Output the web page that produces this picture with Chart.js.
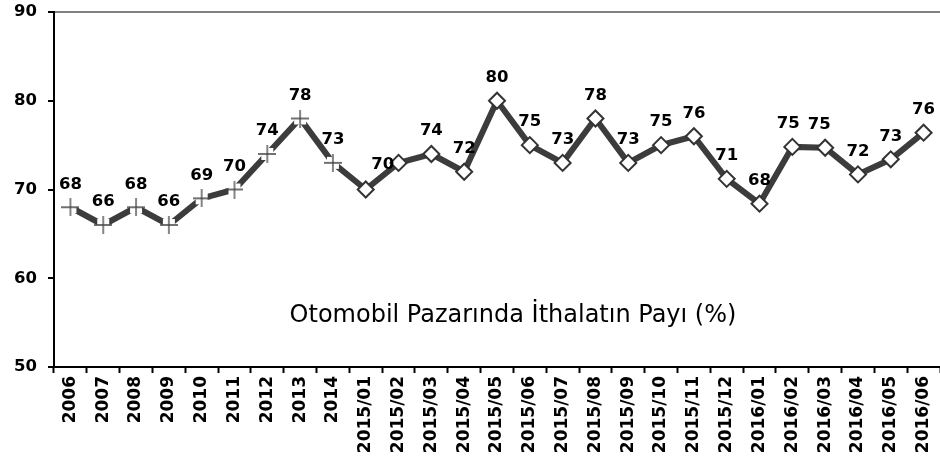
<!DOCTYPE html>
<html>
<head>
<meta charset="utf-8">
<script src="https://cdn.jsdelivr.net/npm/chart.js@4/dist/chart.umd.min.js"></script>
<style>
  html, body { margin: 0; padding: 0; background: #fff; }
  #wrap { width: 940px; height: 457px; }
</style>
</head>
<body>
<div id="wrap"><canvas id="importChart" width="940" height="457"></canvas></div>
<script>
const categories = ["2006","2007","2008","2009","2010","2011","2012","2013","2014",
  "2015/01","2015/02","2015/03","2015/04","2015/05","2015/06","2015/07","2015/08",
  "2015/09","2015/10","2015/11","2015/12","2016/01","2016/02","2016/03","2016/04",
  "2016/05","2016/06"]

const importShare = [68, 66, 68, 66, 69, 70, 74, 78, 73,
  70, 73, 74, 72, 80, 75, 73, 78, 73, 75, 76, 71.2,
  68.4, 74.8, 74.7, 71.7, 73.4, 76.4]

// yearly points use a cross marker, monthly points a diamond
const yearlyCount = 9

const yTicks = [50, 60, 70, 80, 90]

const chartTitle = "Otomobil Pazarında İthalatın Payı (%)"

function crossMarker() {
    const c = document.createElement("canvas")
    c.width = 18
    c.height = 18
    const g = c.getContext("2d")
    g.fillStyle = "#fff"
    g.fillRect(3, 3, 12, 12)
    g.strokeStyle = "#444"
    g.lineWidth = 1.3
    g.beginPath()
    g.moveTo(0, 9); g.lineTo(18, 9)
    g.moveTo(9, 0); g.lineTo(9, 18)
    g.stroke()
    return c
}

const cross = crossMarker()

const valueLabels = {
    id: "valueLabels",
    afterDatasetsDraw(chart) {
        const ctx = chart.ctx
        const meta = chart.getDatasetMeta(0)
        ctx.save()
        ctx.font = "bold 16.5px 'DejaVu Sans'"
        ctx.fillStyle = "#000"
        ctx.textAlign = "center"
        ctx.textBaseline = "middle"
        meta.data.forEach((pt, i) => {
            if (i === 10) return
            let dx = 0
            let dy = -23
            if (i === 9) { dx = 17; dy = -25 }
            if (i === 22) dx = -4
            if (i === 23) dx = -6
            ctx.fillText(String(Math.round(importShare[i])), pt.x + dx, pt.y + dy)
        })
        ctx.restore()
    }
}

const innerTitle = {
    id: "innerTitle",
    afterDraw(chart) {
        const ctx = chart.ctx
        const y = chart.scales.y
        ctx.save()
        ctx.font = "24px 'DejaVu Sans'"
        ctx.fillStyle = "#000"
        ctx.textAlign = "center"
        ctx.textBaseline = "middle"
        ctx.fillText(chartTitle, 513, y.getPixelForValue(55.8))
        ctx.restore()
    }
}

new Chart(document.getElementById("importChart"), {
    type: "line",
    data: {
        labels: categories,
        datasets: [{
            data: importShare,
            borderColor: "#3c3c3c",
            borderWidth: 6,
            tension: 0,
            pointStyle: importShare.map((v, i) => i < yearlyCount ? cross : "rectRot"),
            pointRadius: importShare.map((v, i) => i < yearlyCount ? 9 : 8),
            pointBackgroundColor: "#fff",
            pointBorderColor: "#333",
            pointBorderWidth: 2
        }]
    },
    options: {
        responsive: false,
        animation: false,
        layout: { autoPadding: false, padding: { top: 12, right: 0, left: 0, bottom: 0 } },
        plugins: {
            legend: { display: false },
            tooltip: { enabled: false }
        },
        scales: {
            x: {
                offset: true,
                grid: {
                    offset: true,
                    drawOnChartArea: false,
                    tickLength: 6,
                    tickColor: "#000",
                    tickWidth: 2
                },
                border: { color: "#000", width: 2 },
                ticks: {
                    autoSkip: false,
                    minRotation: 90,
                    maxRotation: 90,
                    padding: 3,
                    color: "#000",
                    font: { family: "'DejaVu Sans'", weight: "bold", size: 17 }
                },
                afterFit: s => {
                    s.height = 90
                    s.paddingLeft = 0
                    s.paddingRight = 0
                }
            },
            y: {
                min: 50,
                max: 90,
                afterBuildTicks: s => { s.ticks = yTicks.map(v => ({ value: v })) },
                grid: {
                    color: c => c.tick && c.tick.value === 90 ? "#808080" : "rgba(0,0,0,0)",
                    lineWidth: 2,
                    tickLength: 6,
                    tickColor: "#000",
                    tickWidth: 2
                },
                border: { color: "#000", width: 2 },
                ticks: {
                    padding: 11,
                    color: "#000",
                    font: { family: "'DejaVu Sans'", weight: "bold", size: 16.5 }
                },
                afterFit: s => {
                    s.width = 54
                    s.paddingTop = 0
                    s.paddingBottom = 0
                }
            }
        }
    },
    plugins: [valueLabels, innerTitle]
})
</script>
</body>
</html>
